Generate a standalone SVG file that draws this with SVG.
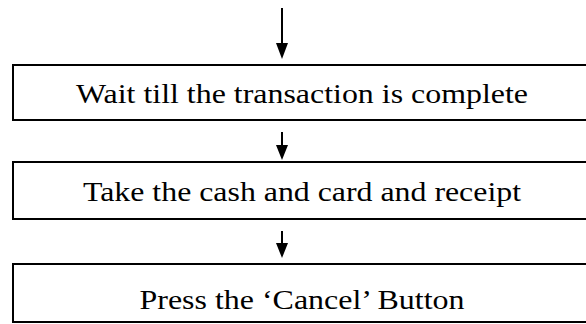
<svg xmlns="http://www.w3.org/2000/svg" width="586" height="324" viewBox="0 0 586 324">
<style>
.box{fill:#fff;stroke:#000;stroke-width:2}
.lbl{font-family:"Liberation Serif","Times New Roman",serif;font-size:27.5px;fill:#000;text-anchor:middle}
.ln{stroke:#000;stroke-width:2;fill:none}
.hd{fill:#000}
</style>
<rect width="586" height="324" fill="#fff"/>
<g id="connectors">
<line class="ln" x1="282" y1="8" x2="282" y2="46"/>
<polygon class="hd" points="276,43 288,43 282,59"/>
<line class="ln" x1="282" y1="132" x2="282" y2="148"/>
<polygon class="hd" points="276,145 288,145 282,160"/>
<line class="ln" x1="282" y1="231" x2="282" y2="246"/>
<polygon class="hd" points="276,243 288,243 282,258"/>
</g>
<g id="n1">
<rect class="box" x="13" y="65" width="600" height="55"/>
<text class="lbl" x="302" y="103" textLength="452" lengthAdjust="spacingAndGlyphs">Wait till the transaction is complete</text>
</g>
<g id="n2">
<rect class="box" x="13" y="162" width="600" height="57"/>
<text class="lbl" x="302" y="201" textLength="438" lengthAdjust="spacingAndGlyphs">Take the cash and card and receipt</text>
</g>
<g id="n3">
<rect class="box" x="13" y="264" width="600" height="58"/>
<text class="lbl" x="302" y="309" textLength="325" lengthAdjust="spacingAndGlyphs">Press the ‘Cancel’ Button</text>
</g>
</svg>
